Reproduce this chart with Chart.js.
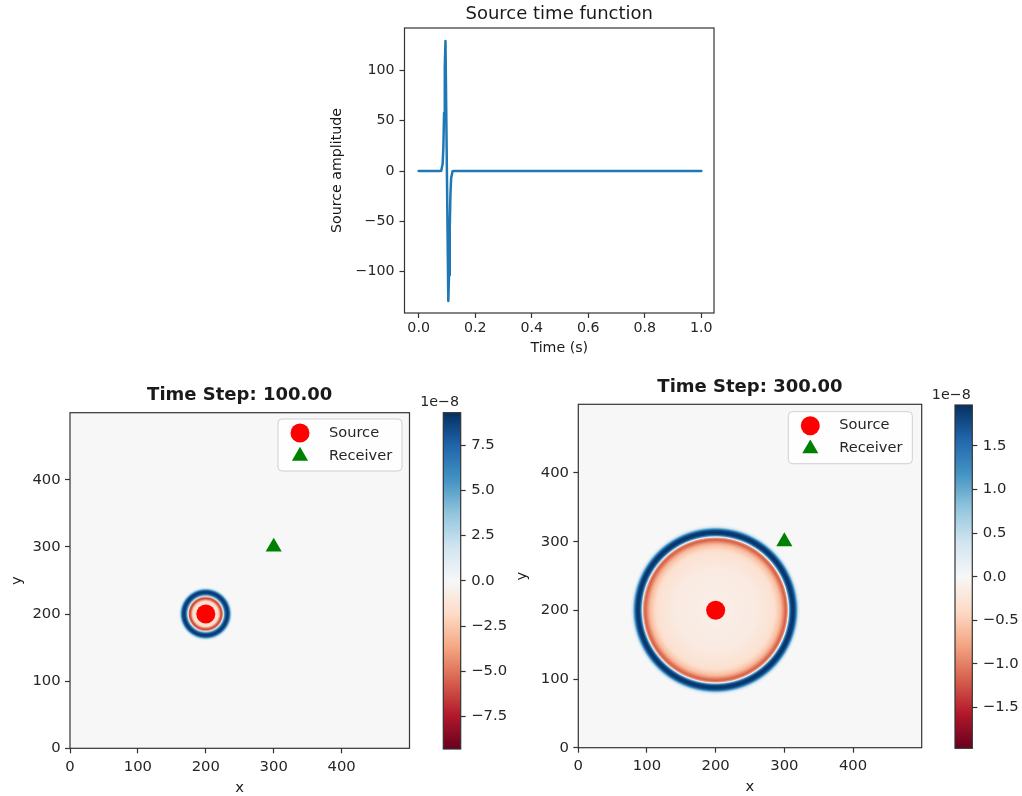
<!DOCTYPE html>
<html><head><meta charset="utf-8">
<script src="https://cdn.jsdelivr.net/npm/chart.js@4.4.1/dist/chart.umd.min.js"></script>
<style>
html,body{margin:0;padding:0;background:#fff;width:1022px;height:796px;overflow:hidden;position:relative;}
canvas{position:absolute;}
</style></head><body>
<canvas id="stf" width="430" height="360" style="left:300px;top:0px"></canvas>
<canvas id="wf1" width="420" height="427" style="left:0px;top:370px"></canvas>
<canvas id="cb1" width="100" height="427" style="left:420px;top:370px"></canvas>
<canvas id="wf2" width="432" height="434" style="left:500px;top:362px"></canvas>
<canvas id="cb2" width="90" height="434" style="left:932px;top:362px"></canvas>
<script>
// ---------------- data ----------------
const stfTitle = 'Source time function';
const stfXLabel = 'Time (s)';
const stfYLabel = 'Source amplitude';
const stfTime = [0.0, 0.075, 0.08, 0.085, 0.0875, 0.09, 0.0925, 0.095, 0.1, 0.105, 0.1075, 0.11, 0.1125, 0.115, 0.12, 0.125, 1.0];
const stfAmp  = [0, 0, 0.3, 7.1, 23.3, 57.6, 103.6, 129, 0, -129, -103.6, -57.6, -23.3, -7.1, -0.3, 0, 0];
const stfXTicks = [0, 0.2, 0.4, 0.6, 0.8, 1.0];
const stfYTicks = [-100, -50, 0, 50, 100];

const gridTicks = [0, 100, 200, 300, 400];
const sourcePos = [200, 200];
const receiverPos = [300, 300];

const step1Title = 'Time Step: 100.00';
const step1Radius = [0, 14, 18, 20, 22.5, 24.5, 26, 27.5, 30, 32.5, 35, 37, 39.5, 800];
const step1Value  = [-3, -1.5, -1.2, -3, -6.3, -5.8, 0, 5, 8.5, 9.2, 7.5, 3, 0, 0];   // x 1e-8
const step1Range  = [-9.3, 9.3];
const step1CbTicks = [-7.5, -5, -2.5, 0, 2.5, 5, 7.5];

const step2Title = 'Time Step: 300.00';
const step2Radius = [0, 60, 85, 95, 100, 102.5, 105, 106.3, 107.8, 110, 113, 116, 118.5, 121, 124, 800];
const step2Value  = [-0.12, -0.18, -0.3, -0.6, -1.0, -1.2, -0.9, 0, 1.0, 1.8, 1.95, 1.8, 1.1, 0.3, 0, 0]; // x 1e-8
const step2Range  = [-1.97, 1.97];
const step2CbTicks = [-1.5, -1, -0.5, 0, 0.5, 1, 1.5];

const cbOffsetText = '1e\u22128';
// --------------------------------------

const RDBU = ['#67001f','#b2182b','#d6604d','#f4a582','#fddbc7','#f7f7f7','#d1e5f0','#92c5de','#4393c3','#2166ac','#053061'];
const RDBU_RGB = RDBU.map(h => [parseInt(h.substr(1,2),16), parseInt(h.substr(3,2),16), parseInt(h.substr(5,2),16)]);
function cmap(t) {
  t = Math.max(0, Math.min(1, t));
  const f = t * (RDBU_RGB.length - 1);
  const i = Math.min(Math.floor(f), RDBU_RGB.length - 2);
  const u = f - i, a = RDBU_RGB[i], b = RDBU_RGB[i+1];
  return [a[0]+(b[0]-a[0])*u, a[1]+(b[1]-a[1])*u, a[2]+(b[2]-a[2])*u];
}
function interp(xs, ys, x) {
  if (x <= xs[0]) return ys[0];
  for (let k = 1; k < xs.length; k++) {
    if (x <= xs[k]) { const u = (x - xs[k-1]) / (xs[k] - xs[k-1]); return ys[k-1] + (ys[k]-ys[k-1])*u; }
  }
  return ys[ys.length-1];
}
const minus = s => String(s).replace('-', '\u2212');
const FONT = "'DejaVu Sans', sans-serif";
Chart.defaults.font.family = FONT;
Chart.defaults.color = '#262626';

function axis(o) {
  const vertical = o.pos === 'left' || o.pos === 'right';
  const ax = {
    type: 'linear', position: o.pos, min: o.min, max: o.max, display: true,
    afterBuildTicks: s => { s.ticks = o.ticks.map(v => ({ value: v })); },
    afterFit: s => { if (vertical) s.width = o.fixed; else s.height = o.fixed; },
    ticks: { callback: v => o.fmt(v), font: { size: o.fs }, padding: o.pad, color: '#262626', maxRotation: 0, minRotation: 0, autoSkip: false },
    grid: { display: true, drawOnChartArea: false, drawTicks: true, tickLength: 5, tickColor: '#333', tickWidth: 1.2 },
    border: { display: false },
    title: { display: false }
  };
  if (o.title) {
    ax.title = { display: true, text: o.title, font: { size: o.fs }, color: '#1a1a1a',
      padding: { top: o.tpad, bottom: o.tpad } };
  }
  return ax;
}
function framePlugin() {
  return { id: 'frame', afterDraw(chart) {
    const { ctx, chartArea: a } = chart;
    ctx.save(); ctx.strokeStyle = '#333'; ctx.lineWidth = 1.2;
    ctx.strokeRect(a.left, a.top, a.right - a.left, a.bottom - a.top); ctx.restore();
  } };
}
function titlePlugin(text, font, gap) {
  return { id: 'axTitle', afterDraw(chart) {
    const { ctx, chartArea: a } = chart;
    ctx.save(); ctx.font = font; ctx.fillStyle = '#1a1a1a'; ctx.textAlign = 'center'; ctx.textBaseline = 'middle';
    ctx.fillText(text, (a.left + a.right) / 2, a.top - gap); ctx.restore();
  } };
}
function wavefieldPlugin(center, radius, value, range) {
  return { id: 'wavefield', beforeDatasetsDraw(chart) {
    const { ctx, chartArea: a, scales: { x, y } } = chart;
    const w = Math.ceil(a.right - a.left), h = Math.ceil(a.bottom - a.top);
    const off = document.createElement('canvas'); off.width = w; off.height = h;
    const octx = off.getContext('2d'); const img = octx.createImageData(w, h);
    const xs = []; for (let i = 0; i < w; i++) xs.push(x.getValueForPixel(a.left + i + 0.5) - center[0]);
    for (let j = 0; j < h; j++) {
      const dy = y.getValueForPixel(a.top + j + 0.5) - center[1];
      for (let i = 0; i < w; i++) {
        const r = Math.sqrt(xs[i]*xs[i] + dy*dy);
        const v = interp(radius, value, r);
        const c = cmap((v - range[0]) / (range[1] - range[0]));
        const p = (j * w + i) * 4;
        img.data[p] = c[0]; img.data[p+1] = c[1]; img.data[p+2] = c[2]; img.data[p+3] = 255;
      }
    }
    octx.putImageData(img, 0, 0);
    ctx.drawImage(off, a.left, a.top, a.right - a.left, a.bottom - a.top);
  } };
}
function legendPlugin(ins) {
  return { id: 'innerLegend', afterDatasetsDraw(chart) {
    const { ctx, chartArea: a } = chart;
    const bw = 124, bh = 52, bx = a.right - ins.right - bw, by = a.top + ins.top, rr = 4;
    ctx.save();
    ctx.beginPath();
    ctx.moveTo(bx + rr, by); ctx.lineTo(bx + bw - rr, by); ctx.quadraticCurveTo(bx + bw, by, bx + bw, by + rr);
    ctx.lineTo(bx + bw, by + bh - rr); ctx.quadraticCurveTo(bx + bw, by + bh, bx + bw - rr, by + bh);
    ctx.lineTo(bx + rr, by + bh); ctx.quadraticCurveTo(bx, by + bh, bx, by + bh - rr);
    ctx.lineTo(bx, by + rr); ctx.quadraticCurveTo(bx, by, bx + rr, by); ctx.closePath();
    ctx.fillStyle = 'rgba(255,255,255,0.8)'; ctx.fill();
    ctx.strokeStyle = '#d0d0d0'; ctx.lineWidth = 1; ctx.stroke();
    chart.data.datasets.forEach((ds, i) => {
      const yy = by + 14 + i * 23;
      ctx.fillStyle = ds.backgroundColor; ctx.strokeStyle = ds.backgroundColor;
      Chart.helpers.drawPoint(ctx, { pointStyle: ds.pointStyle, radius: ds.pointRadius, rotation: 0, borderWidth: 0 }, bx + 22, yy);
      ctx.fillStyle = '#262626'; ctx.font = '14.6px ' + FONT; ctx.textAlign = 'left'; ctx.textBaseline = 'middle';
      ctx.fillText(ds.label, bx + 51, yy);
    });
    ctx.restore();
  } };
}
function colorbarPlugin(range) {
  return { id: 'cbar', beforeDatasetsDraw(chart) {
    const { ctx, chartArea: a, scales: { y } } = chart;
    const g = ctx.createLinearGradient(0, y.getPixelForValue(range[0]), 0, y.getPixelForValue(range[1]));
    RDBU.forEach((c, i) => g.addColorStop(i / (RDBU.length - 1), c));
    ctx.save(); ctx.fillStyle = g; ctx.fillRect(a.left, a.top, a.right - a.left, a.bottom - a.top); ctx.restore();
  }, afterDraw(chart) {
    const { ctx, chartArea: a } = chart;
    ctx.save(); ctx.font = '14.3px ' + FONT; ctx.fillStyle = '#262626'; ctx.textAlign = 'right'; ctx.textBaseline = 'middle';
    ctx.fillText(cbOffsetText, a.right - 1.5, a.top - 10); ctx.restore();
  } };
}

// ---- Source time function ----
new Chart(document.getElementById('stf'), {
  type: 'scatter',
  data: { datasets: [{ label: 'stf', data: stfTime.map((t, i) => ({ x: t, y: stfAmp[i] })), showLine: true,
    borderColor: '#1f77b4', backgroundColor: '#1f77b4', borderWidth: 2.5, pointRadius: 0, tension: 0,
    borderJoinStyle: 'round', borderCapStyle: 'round' }] },
  options: {
    responsive: false, animation: false, events: [], devicePixelRatio: 1,
    layout: { padding: { left: 0, top: 28, right: 16, bottom: 0 } },
    plugins: { legend: { display: false }, tooltip: { enabled: false } },
    scales: {
      x: axis({ pos: 'bottom', min: -0.05, max: 1.045, ticks: stfXTicks, fmt: v => v.toFixed(1), fs: 14.2, pad: 2, fixed: 47, title: stfXLabel, tpad: 3.5 }),
      y: axis({ pos: 'left', min: -141, max: 142, ticks: stfYTicks, fmt: v => minus(v), fs: 14.2, pad: 5, fixed: 104.5, title: stfYLabel, tpad: 28.5 })
    }
  },
  plugins: [framePlugin(), titlePlugin(stfTitle, '18px ' + FONT, 14)]
});

function wavefield(id, title, radius, value, range, cfg) {
  new Chart(document.getElementById(id), {
    type: 'scatter',
    data: { datasets: [
      { label: 'Source', data: [{ x: sourcePos[0], y: sourcePos[1] }], pointStyle: 'circle', pointRadius: 9.5, backgroundColor: '#ff0000', borderWidth: 0 },
      { label: 'Receiver', data: [{ x: receiverPos[0], y: receiverPos[1] }], pointStyle: 'triangle', pointRadius: 9.3, backgroundColor: '#008000', borderColor: '#008000', borderWidth: 0 }
    ] },
    options: {
      responsive: false, animation: false, events: [], devicePixelRatio: 1,
      layout: { padding: cfg.padding },
      plugins: { legend: { display: false }, tooltip: { enabled: false } },
      scales: {
        x: axis({ pos: 'bottom', min: 0, max: 500, ticks: gridTicks, fmt: v => String(v), fs: 14.8, pad: 4.5, fixed: cfg.xh, title: 'x', tpad: 0 }),
        y: axis({ pos: 'left', min: 0, max: 500, ticks: gridTicks, fmt: v => String(v), fs: 14.8, pad: 4.3, fixed: cfg.yw, title: 'y', tpad: cfg.ytpad })
      }
    },
    plugins: [wavefieldPlugin(sourcePos, radius, value, range), legendPlugin(cfg.legend), framePlugin(), titlePlugin(title, 'bold 18px ' + FONT, cfg.tgap)]
  });
}
function colorbar(id, range, ticks, cfg) {
  new Chart(document.getElementById(id), {
    type: 'scatter',
    data: { datasets: [{ label: 'cb', data: [] }] },
    options: {
      responsive: false, animation: false, events: [], devicePixelRatio: 1,
      layout: { padding: cfg.padding },
      plugins: { legend: { display: false }, tooltip: { enabled: false } },
      scales: {
        x: { type: 'linear', display: false, min: 0, max: 1 },
        y: axis({ pos: 'right', min: range[0], max: range[1], ticks: ticks, fmt: v => minus(v.toFixed(1)), fs: 14.8, pad: 5.5, fixed: cfg.yw })
      }
    },
    plugins: [colorbarPlugin(range), framePlugin()]
  });
}

wavefield('wf1', step1Title, step1Radius, step1Value, step1Range,
  { padding: { left: 0, top: 42.7, right: 10.5, bottom: 0 }, xh: 48.7, yw: 70, ytpad: 8.1, tgap: 17.7, legend: { right: 7.5, top: 6.3 } });
colorbar('cb1', step1Range, step1CbTicks, { padding: { left: 23.3, top: 42.7, right: 0, bottom: 48 }, yw: 59.3 });
wavefield('wf2', step2Title, step2Radius, step2Value, step2Range,
  { padding: { left: 0, top: 42.3, right: 10.3, bottom: 0 }, xh: 48.3, yw: 78.3, ytpad: 12.8, tgap: 17.3, legend: { right: 9.4, top: 7.4 } });
colorbar('cb2', step2Range, step2CbTicks, { padding: { left: 23, top: 43, right: 0, bottom: 47.7 }, yw: 49.7 });
</script>
</body></html>
